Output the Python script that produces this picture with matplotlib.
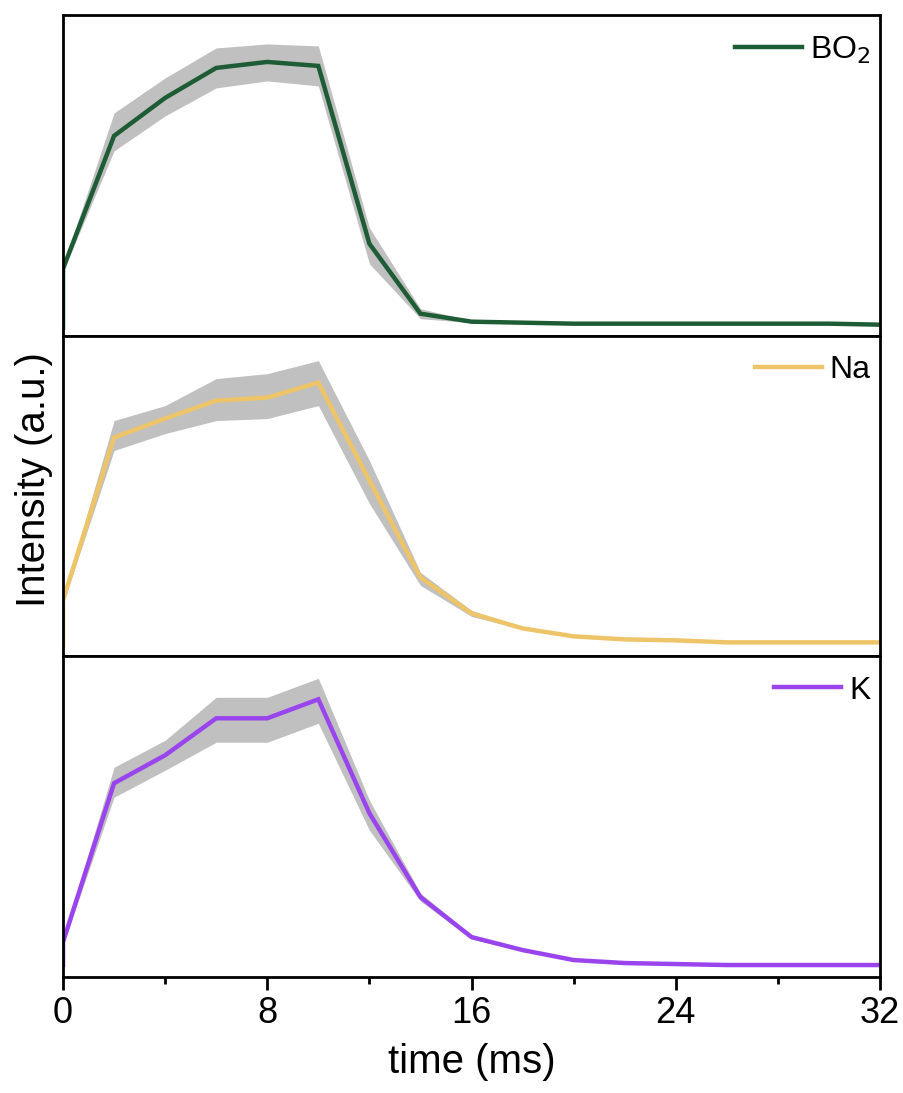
import matplotlib
matplotlib.use("Agg")
import matplotlib.pyplot as plt
import numpy as np
from matplotlib.ticker import MultipleLocator

plt.rcParams["font.family"] = ["Liberation Sans", "DejaVu Sans"]

# time axis: the first sample is the baseline just before t = 0
time_ms = [0, 0, 2, 4, 6, 8, 10, 12, 14, 16, 18, 20, 22, 24, 26, 28, 30, 32]

bo2 = [8, 67, 200, 238, 268, 274, 270, 92, 22, 14, 13, 12, 12, 12, 12, 12, 12, 11]
bo2_hi = [8, 70, 223, 258, 288, 292, 290, 108, 27, 15, 14, 13, 13, 13, 13, 13, 13, 12]
bo2_lo = [8, 64, 185, 220, 248, 255, 250, 72, 17, 13, 12, 11, 11, 11, 11, 11, 11, 10]

na = [11, 56, 219, 238, 256, 259, 274, 176, 79, 43, 28, 20, 17, 16, 14, 14, 14, 14]
na_hi = [11, 59, 236, 251, 278, 283, 296, 196, 84, 46, 29, 21, 18, 17, 15, 15, 15, 15]
na_lo = [11, 53, 206, 223, 236, 238, 251, 153, 71, 40, 27, 19, 16, 15, 13, 13, 13, 13]

k = [12, 35, 194, 222, 259, 259, 278, 164, 80, 40, 27, 17, 14, 13, 12, 12, 12, 12]
k_hi = [12, 38, 210, 237, 280, 280, 299, 177, 84, 42, 28, 18, 15, 14, 13, 13, 13, 13]
k_lo = [12, 32, 180, 207, 235, 235, 254, 147, 76, 38, 26, 16, 13, 12, 11, 11, 11, 11]

labels = ["BO$_2$", "Na", "K"]
colors = ["#1d5c34", "#eec468", "#9a44ee"]

series = [(bo2, bo2_lo, bo2_hi), (na, na_lo, na_hi), (k, k_lo, k_hi)]

fig = plt.figure(figsize=(9.04, 10.93), dpi=100)
gs = fig.add_gridspec(3, 1, left=0.0697, right=0.9735, bottom=0.1061,
                      top=0.9863, hspace=0)

for i, ((y, lo, hi), lab, col) in enumerate(zip(series, labels, colors)):
    ax = fig.add_subplot(gs[i])
    ax.fill_between(time_ms, lo, hi, color="#c0c0c0", lw=0, zorder=1)
    ax.plot(time_ms, y, color=col, lw=3.2, label=lab, zorder=2,
            solid_joinstyle="miter")
    ax.set_xlim(0, 32)
    ax.set_ylim(0, 321)
    ax.set_yticks([])
    for sp in ax.spines.values():
        sp.set_linewidth(2)
    ax.legend(loc="upper right", frameon=False, fontsize=23,
              handlelength=2.1, handletextpad=0.25, borderaxespad=0.2,
              bbox_to_anchor=(1.012, 1.0))
    ax.xaxis.set_major_locator(MultipleLocator(8))
    ax.xaxis.set_minor_locator(MultipleLocator(4))
    if i < 2:
        ax.tick_params(axis="x", which="both", bottom=False,
                       labelbottom=False)
    else:
        ax.tick_params(axis="x", which="major", length=9, width=2,
                       labelsize=26, pad=5)
        ax.tick_params(axis="x", which="minor", length=5, width=2)
        ax.set_xlabel("time (ms)", fontsize=29, labelpad=8)

fig.text(0.038, 1 - 480 / 1093, "Intensity (a.u.)", rotation=90,
         fontsize=29, ha="center", va="center")

fig.savefig("out.png", dpi=100)
